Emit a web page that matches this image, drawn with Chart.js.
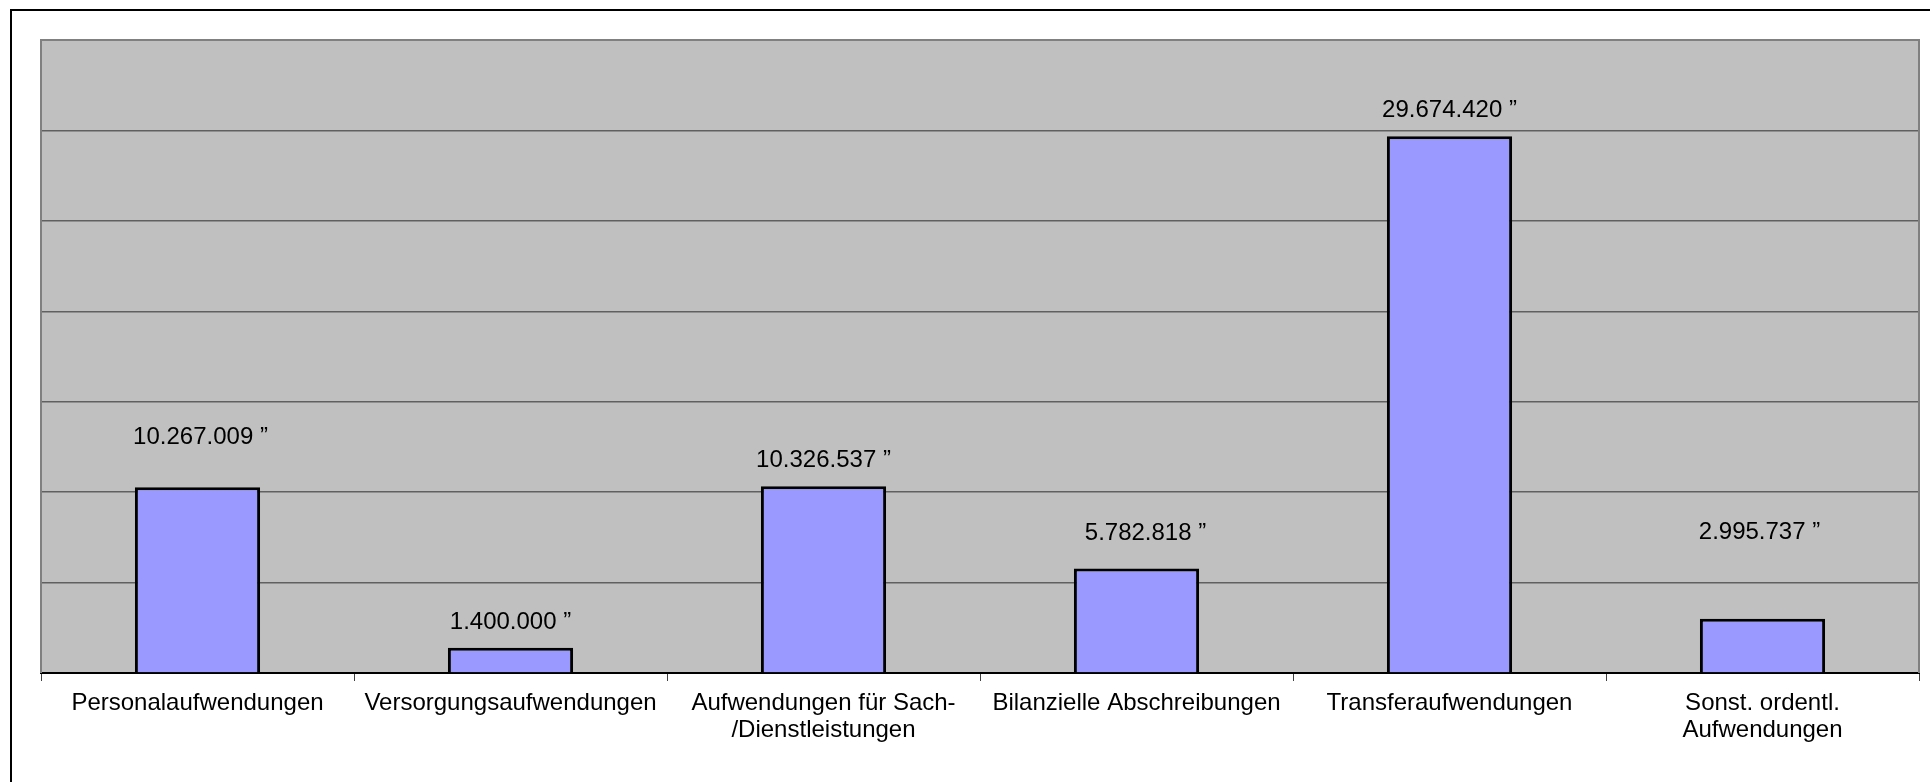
<!DOCTYPE html>
<html>
<head>
<meta charset="utf-8">
<script src="https://cdn.jsdelivr.net/npm/chart.js@4"></script>
<style>
  body { margin: 0; background: #fff; }
  #wrap { position: relative; width: 1930px; height: 782px; overflow: hidden; }
  #frame { position: absolute; left: 10px; top: 9px; width: 2000px; height: 900px;
           border-left: 2px solid #000; border-top: 2px solid #000; }
  #chart { position: absolute; left: 0; top: 0; }
</style>
</head>
<body>
<div id="wrap">
  <div id="frame"></div>
  <canvas id="chart" width="1930" height="782"></canvas>
</div>
<script>
// Aufwandsarten und Beträge
const categories = [
    "Personalaufwendungen",
    "Versorgungsaufwendungen",
    ["Aufwendungen für Sach-", "/Dienstleistungen"],
    "Bilanzielle Abschreibungen",
    "Transferaufwendungen",
    ["Sonst. ordentl.", "Aufwendungen"]
];
const amounts = [10267009, 1400000, 10326537, 5782818, 29674420, 2995737];
const axisMax = 35000000;
const axisStep = 5000000;

const FONT = "'Liberation Sans', Arial, sans-serif";

function formatAmount(v) {
    return String(v).replace(/\B(?=(\d{3})+(?!\d))/g, ".") + " \u201D";
}

// grauer Hintergrund der Zeichenfläche
const plotBackground = {
    id: "plotBackground",
    beforeDraw(chart) {
        const { ctx, chartArea: a } = chart;
        ctx.save();
        ctx.fillStyle = "#C0C0C0";
        ctx.fillRect(a.left, a.top, a.right - a.left, a.bottom - a.top);
        ctx.restore();
    },
    beforeDatasetsDraw(chart) {
        const { ctx, chartArea: a } = chart;
        ctx.save();
        ctx.strokeStyle = "#808080";
        ctx.lineWidth = 2;
        ctx.beginPath();
        ctx.moveTo(a.left, a.bottom);
        ctx.lineTo(a.left, a.top);
        ctx.lineTo(a.right, a.top);
        ctx.lineTo(a.right, a.bottom);
        ctx.stroke();
        ctx.restore();
    }
};

// Beschriftung über den Säulen
const valueLabels = {
    id: "valueLabels",
    afterDatasetsDraw(chart, args, opts) {
        const { ctx } = chart;
        const meta = chart.getDatasetMeta(0);
        ctx.save();
        ctx.font = "24px " + FONT;
        ctx.fillStyle = "#000";
        ctx.textAlign = "center";
        ctx.textBaseline = "middle";
        meta.data.forEach((bar, i) => {
            const v = chart.data.datasets[0].data[i];
            ctx.fillText(formatAmount(v), bar.x + (opts.shift[i] || 0), bar.y - opts.lift[i]);
        });
        ctx.restore();
    }
};

new Chart(document.getElementById("chart"), {
    type: "bar",
    data: {
        labels: categories,
        datasets: [{
            data: amounts,
            backgroundColor: "#9999FF",
            borderColor: "#000",
            borderWidth: 3,
            barPercentage: 0.4,
            categoryPercentage: 1
        }]
    },
    options: {
        responsive: false,
        animation: false,
        layout: { padding: { left: 41, top: 40, right: 11, bottom: 0 } },
        scales: {
            x: {
                afterFit(scale) { scale.height = 109; },
                grid: {
                    offset: true,
                    drawOnChartArea: false,
                    tickLength: 8,
                    color: "#404040"
                },
                border: { color: "#000", width: 2 },
                ticks: {
                    color: "#000",
                    padding: 9,
                    maxRotation: 0,
                    autoSkip: false,
                    font: { family: FONT, size: 24, lineHeight: 1.13 }
                }
            },
            y: {
                min: 0,
                max: axisMax,
                afterFit(scale) { scale.width = 0; },
                ticks: { display: false, stepSize: axisStep },
                grid: { color: "#606060", lineWidth: 1.5, drawTicks: false },
                border: { display: false }
            }
        },
        plugins: {
            legend: { display: false },
            tooltip: { enabled: false },
            valueLabels: {
                lift: [50, 25, 26, 35, 26, 86],
                shift: [3, 0, 0, 9, 0, -3]
            }
        }
    },
    plugins: [plotBackground, valueLabels]
});
</script>
</body>
</html>
